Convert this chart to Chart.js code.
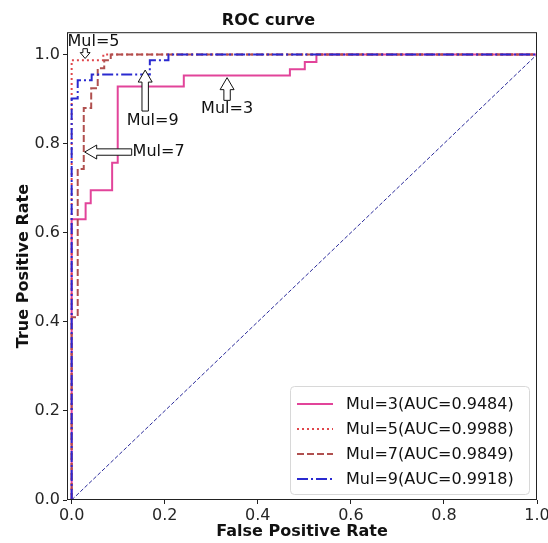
<!doctype html>
<html>
<head>
<title>ROC curve</title>
<script src="https://cdn.jsdelivr.net/npm/chart.js"></script>
<style>
    body { margin: 0; background: #fff; }
</style>
</head>
<body>
<canvas id="roc" width="548" height="543"></canvas>
<script>
// tick labels
var xTicks = [0, 0.2, 0.4, 0.6, 0.8, 1.0];
var yTicks = [0, 0.2, 0.4, 0.6, 0.8, 1.0];

// roc points (fpr / tpr corner points)
var mul3Fpr = [0, 0, 0.030, 0.030, 0.041, 0.041, 0.087, 0.087, 0.099, 0.099, 0.241, 0.241, 0.469, 0.469, 0.501, 0.501, 0.526, 0.526, 1.0];
var mul3Tpr = [0, 0.630, 0.630, 0.666, 0.666, 0.695, 0.695, 0.757, 0.757, 0.928, 0.928, 0.953, 0.953, 0.967, 0.967, 0.983, 0.983, 1.0, 1.0];

var mul5Fpr = [0, 0, 0.068, 0.068, 1.0];
var mul5Tpr = [0, 0.987, 0.987, 1.0, 1.0];

var mul7Fpr = [0, 0, 0.013, 0.013, 0.026, 0.026, 0.042, 0.042, 0.056, 0.056, 0.070, 0.070, 0.084, 0.084, 1.0];
var mul7Tpr = [0, 0.410, 0.410, 0.743, 0.743, 0.880, 0.880, 0.924, 0.924, 0.969, 0.969, 0.987, 0.987, 1.0, 1.0];

var mul9Fpr = [0, 0, 0.013, 0.013, 0.043, 0.043, 0.168, 0.168, 0.208, 0.208, 1.0];
var mul9Tpr = [0, 0.901, 0.901, 0.942, 0.942, 0.955, 0.955, 0.987, 0.987, 1.0, 1.0];

var chanceFpr = [0, 1];
var chanceTpr = [0, 1];

var seriesNames = ['Mul=3(AUC=0.9484)', 'Mul=5(AUC=0.9988)', 'Mul=7(AUC=0.9849)', 'Mul=9(AUC=0.9918)'];

// arrow notes, in data units
var notes = [
    { text: 'Mul=5', tx: 0.047, ty: 1.028, from: [0.029, 1.013], to: [0.029, 0.991], w: 0.7 },
    { text: 'Mul=9', tx: 0.174, ty: 0.851, from: [0.158, 0.873], to: [0.158, 0.965], w: 1 },
    { text: 'Mul=3', tx: 0.334, ty: 0.879, from: [0.334, 0.897], to: [0.334, 0.948], w: 1 },
    { text: 'Mul=7', tx: 0.131, ty: 0.781, from: [0.129, 0.781], to: [0.028, 0.781], w: 1, left: true }
];

function pts(fpr, tpr) {
    return fpr.map(function (v, i) { return { x: v, y: tpr[i] }; });
}

var FONT = '"DejaVu Sans", sans-serif';

function arrow(ctx, x1, y1, x2, y2, k) {
    var dx = x2 - x1, dy = y2 - y1;
    var len = Math.sqrt(dx * dx + dy * dy);
    var ux = dx / len, uy = dy / len, nx = -uy, ny = ux;
    var sw = 3.2 * k, hw = 7 * k, hl = Math.min(12 * k, len * 0.6);
    var bx = x2 - ux * hl, by = y2 - uy * hl;
    ctx.beginPath();
    ctx.moveTo(x1 + nx * sw, y1 + ny * sw);
    ctx.lineTo(bx + nx * sw, by + ny * sw);
    ctx.lineTo(bx + nx * hw, by + ny * hw);
    ctx.lineTo(x2, y2);
    ctx.lineTo(bx - nx * hw, by - ny * hw);
    ctx.lineTo(bx - nx * sw, by - ny * sw);
    ctx.lineTo(x1 - nx * sw, y1 - ny * sw);
    ctx.closePath();
    ctx.fillStyle = '#fff';
    ctx.fill();
    ctx.strokeStyle = '#111';
    ctx.lineWidth = 1;
    ctx.stroke();
}

var extras = {
    id: 'extras',
    afterDatasetsDraw: function (chart) {
        var ctx = chart.ctx, a = chart.chartArea;
        var xs = chart.scales.x, ys = chart.scales.y;
        ctx.save();

        // frame
        ctx.strokeStyle = '#222';
        ctx.lineWidth = 1;
        ctx.strokeRect(a.left + 0.5, a.top + 0.5, a.right - a.left - 1, a.bottom - a.top - 1);

        // notes
        ctx.font = '16px ' + FONT;
        ctx.textBaseline = 'middle';
        notes.forEach(function (n) {
            arrow(ctx, xs.getPixelForValue(n.from[0]), ys.getPixelForValue(n.from[1]),
                xs.getPixelForValue(n.to[0]), ys.getPixelForValue(n.to[1]), n.w);
            ctx.fillStyle = '#111';
            ctx.textAlign = n.left ? 'left' : 'center';
            ctx.fillText(n.text, xs.getPixelForValue(n.tx), ys.getPixelForValue(n.ty));
        });

        // legend
        var bw = 239, bh = 108;
        var bx = a.right - 8 - bw, by = a.bottom - 6 - bh;
        ctx.beginPath();
        ctx.roundRect(bx + 0.5, by + 0.5, bw, bh, 4);
        ctx.fillStyle = 'rgba(255,255,255,0.85)';
        ctx.fill();
        ctx.strokeStyle = '#d8d8d8';
        ctx.stroke();
        ctx.textAlign = 'left';
        for (var i = 0; i < seriesNames.length; i++) {
            var ds = chart.data.datasets[i];
            var ly = by + 18 + i * 25;
            ctx.beginPath();
            ctx.setLineDash(ds.borderDash || []);
            ctx.strokeStyle = ds.borderColor;
            ctx.lineWidth = ds.borderWidth;
            ctx.moveTo(bx + 7, ly);
            ctx.lineTo(bx + 43, ly);
            ctx.stroke();
            ctx.setLineDash([]);
            ctx.fillStyle = '#111';
            ctx.fillText(seriesNames[i], bx + 56, ly + 1);
        }
        ctx.restore();
    }
};

function line(label, data, color, dash, order) {
    return {
        label: label,
        data: data,
        showLine: true,
        borderColor: color,
        backgroundColor: color,
        borderWidth: 2,
        borderDash: dash,
        pointRadius: 0,
        fill: false,
        tension: 0,
        order: order
    };
}

var roc = new Chart(document.getElementById('roc').getContext('2d'), {
    type: 'scatter',
    data: {
        datasets: [
            line(seriesNames[0], pts(mul3Fpr, mul3Tpr), '#e2449a', [], 3),
            line(seriesNames[1], pts(mul5Fpr, mul5Tpr), '#e0474c', [2, 3], 2),
            line(seriesNames[2], pts(mul7Fpr, mul7Tpr), '#b0504f', [7, 3], 1),
            line(seriesNames[3], pts(mul9Fpr, mul9Tpr), '#2a2ad0', [11, 3, 2, 3], 0),
            Object.assign(line('chance', pts(chanceFpr, chanceTpr), '#2b2b9a', [4, 2], 4), { borderWidth: 1 })
        ]
    },
    options: {
        responsive: false,
        animation: false,
        devicePixelRatio: 1,
        layout: { padding: { left: 0, right: 11, top: 0, bottom: 0 } },
        plugins: {
            legend: { display: false },
            tooltip: { enabled: false },
            title: {
                display: true,
                text: 'ROC curve',
                color: '#111',
                font: { family: FONT, size: 16, weight: 'bold' },
                padding: { top: 11, bottom: 2 }
            }
        },
        scales: {
            x: {
                type: 'linear',
                min: -0.01,
                max: 1.0,
                afterBuildTicks: function (s) { s.ticks = xTicks.map(function (v) { return { value: v }; }); },
                afterFit: function (s) { s.height = 43; s.paddingLeft = 0; s.paddingRight = 0; },
                ticks: {
                    color: '#262626',
                    padding: 2,
                    maxRotation: 0,
                    font: { family: FONT, size: 16 },
                    callback: function (v) { return Number(v).toFixed(1); }
                },
                grid: { drawOnChartArea: false, drawTicks: true, tickLength: 4, color: '#222' },
                border: { display: false },
                title: {
                    display: true,
                    text: 'False Positive Rate',
                    color: '#111',
                    font: { family: FONT, size: 16, weight: 'bold' },
                    padding: { top: 0, bottom: 2 }
                }
            },
            y: {
                type: 'linear',
                min: 0,
                max: 1.05,
                afterBuildTicks: function (s) { s.ticks = yTicks.map(function (v) { return { value: v }; }); },
                afterFit: function (s) { s.width = 67; s.paddingTop = 0; s.paddingBottom = 0; },
                ticks: {
                    color: '#262626',
                    padding: 3,
                    font: { family: FONT, size: 16 },
                    callback: function (v) { return Number(v).toFixed(1); }
                },
                grid: { drawOnChartArea: false, drawTicks: true, tickLength: 4, color: '#222' },
                border: { display: false },
                title: {
                    display: true,
                    text: 'True Positive Rate',
                    color: '#111',
                    font: { family: FONT, size: 16, weight: 'bold' },
                    padding: { top: 14, bottom: 0 }
                }
            }
        }
    },
    plugins: [extras]
});
</script>
</body>
</html>
